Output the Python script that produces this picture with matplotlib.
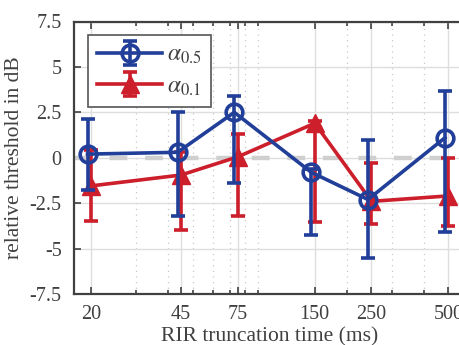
import matplotlib
matplotlib.use("Agg")
import matplotlib.pyplot as plt
import matplotlib.transforms as mtransforms
import numpy as np
from matplotlib.ticker import FixedLocator, NullFormatter, LogLocator

# ---- data ----
times = [20, 45, 75, 150, 250, 500]
tick_labels = ["20", "45", "75", "150", "250", "500"]

a05_mean = [0.2, 0.3, 2.5, -0.8, -2.3, 1.1]
a05_upper = [2.15, 2.5, 3.4, -0.6, 1.0, 3.65]
a05_lower = [-1.75, -3.2, -1.4, -4.25, -5.5, -4.1]

a01_mean = [-1.55, -0.95, 0.05, 1.9, -2.4, -2.1]
a01_upper = [0.45, 0.3, 1.3, 2.0, -0.3, 0.0]
a01_lower = [-3.5, -4.0, -3.2, -3.55, -3.65, -3.75]

yticks = [-7.5, -5, -2.5, 0, 2.5, 5, 7.5]
ytick_labels = ["-7.5", "-5", "-2.5", "0", "2.5", "5", "7.5"]

# ---- style ----
plt.rcParams['font.family'] = ['Liberation Serif', 'DejaVu Serif']
plt.rcParams['mathtext.fontset'] = 'stix'
blue = "#213f99"
red = "#cc1e2b"
txt = "#404040"

W, H, DPI = 459, 345, 100
fig = plt.figure(figsize=(W / DPI, H / DPI), dpi=DPI)
left_px, right_px, top_px, bot_px = 74, 466, 21.5, 294
ax = fig.add_axes([left_px / W, 1 - bot_px / H, (right_px - left_px) / W, (bot_px - top_px) / H])

ax.set_xscale('log')
ax.set_xlim(17.16, 585.6)
ax.set_ylim(-7.5, 7.5)

# grids
ax.xaxis.set_major_locator(FixedLocator(times))
ax.xaxis.set_minor_locator(LogLocator(base=10, subs=np.arange(2, 10)))
ax.xaxis.set_minor_formatter(NullFormatter())
ax.set_xticks(times)
ax.set_xticklabels(tick_labels)
ax.set_yticks(yticks)
ax.set_yticklabels(ytick_labels)
ax.grid(True, which='major', color='#dedede', lw=1.0, ls='-', zorder=0)
ax.grid(True, which='minor', axis='x', color='#c8c8c8', lw=0.9, ls=(0, (1, 3.5)), zorder=0)
ax.set_axisbelow(True)

ax.tick_params(axis='both', which='both', direction='in', colors=txt, labelsize=14.5,
               top=True, right=True, width=1.2)
ax.tick_params(axis='both', which='major', length=5)
ax.tick_params(axis='x', which='minor', length=3)
ax.tick_params(axis='x', pad=8)
ax.tick_params(axis='y', pad=9)
for s in ax.spines.values():
    s.set_color(txt)
    s.set_linewidth(1.6)

# zero reference
ax.axhline(0, color='#cfcfcf', lw=3.2, ls=(0, (4, 4)), zorder=1)

# dodge for blue series
offset = mtransforms.ScaledTranslation(-3.5 / DPI, 0, fig.dpi_scale_trans)

def errs(mean, lo, hi):
    m = np.array(mean); return [m - np.array(lo), np.array(hi) - m]

ax.errorbar(times, a01_mean, yerr=errs(a01_mean, a01_lower, a01_upper), color=red,
            lw=2.6, elinewidth=2.6, capsize=4.8, capthick=2.6, marker='^', ms=12.5,
            mfc=red, mec=red, label=r'$\alpha_{0.1}$', zorder=3)
ax.errorbar(times, a05_mean, yerr=errs(a05_mean, a05_lower, a05_upper), color=blue,
            lw=2.6, elinewidth=2.6, capsize=4.8, capthick=2.6, marker='o', ms=12,
            mfc='none', mec=blue, mew=2.6, label=r'$\alpha_{0.5}$', zorder=4,
            transform=ax.transData + offset)

handles, labels = ax.get_legend_handles_labels()
leg = ax.legend(handles[::-1], labels[::-1], loc='upper left',
                bbox_to_anchor=((88 - left_px) / (right_px - left_px), 1 - (35 - top_px) / (bot_px - top_px)),
                borderaxespad=0, frameon=True, fancybox=False, edgecolor='#555555',
                fontsize=17, handlelength=2.75, handletextpad=0.2, borderpad=0.4,
                labelspacing=0.4, framealpha=1)
leg.get_frame().set_linewidth(1.2)
for t in leg.get_texts():
    t.set_color(txt)

ax.set_xlabel('RIR truncation time (ms)', fontsize=15.5, color=txt, labelpad=2)
ax.set_ylabel('relative threshold in dB', fontsize=15.5, color=txt, labelpad=4)

fig.savefig('out.png', dpi=DPI)
